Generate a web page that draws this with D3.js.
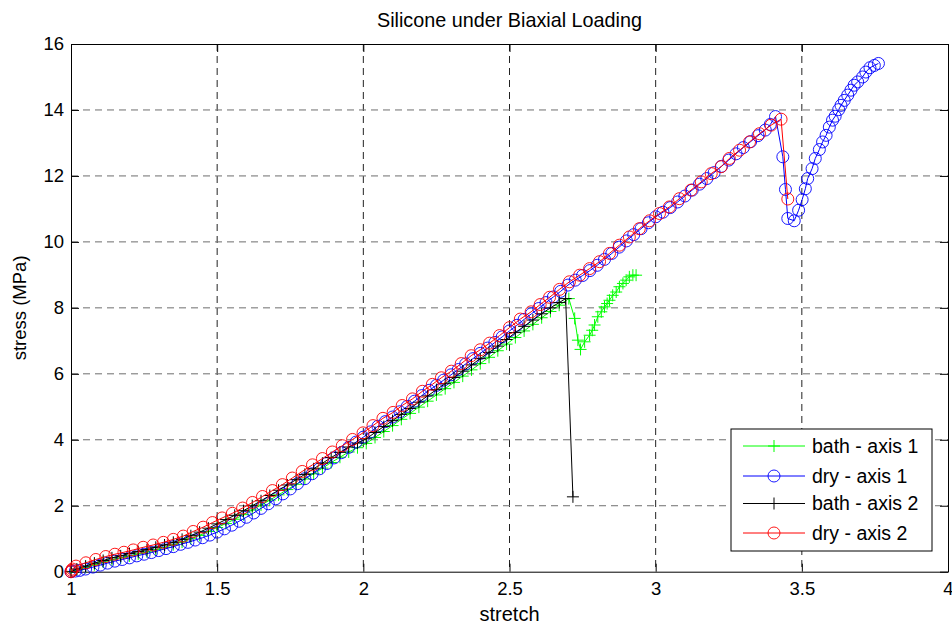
<!DOCTYPE html>
<html><head><meta charset="utf-8">
<script src="https://cdn.jsdelivr.net/npm/d3@7"></script>
<style>
html,body{margin:0;padding:0;background:#fff;}
svg{display:block;font-family:"Liberation Sans",Arial,Helvetica,sans-serif;}
</style></head>
<body>
<svg id="chart" width="952" height="624"></svg>
<script>
// ---------------- data (stretch, stress in MPa) ----------------
const bathAxis1 = [[1.000,0.00],[1.020,0.05],[1.050,0.13],[1.080,0.21],[1.110,0.29],[1.140,0.36],[1.170,0.42],[1.200,0.48],[1.230,0.54],[1.260,0.60],[1.290,0.67],[1.320,0.74],[1.350,0.82],[1.380,0.90],[1.410,1.00],[1.440,1.10],[1.470,1.22],[1.500,1.34],[1.530,1.46],[1.560,1.59],[1.590,1.73],[1.620,1.87],[1.650,2.02],[1.680,2.17],[1.710,2.33],[1.740,2.49],[1.770,2.65],[1.800,2.81],[1.830,2.97],[1.860,3.14],[1.890,3.31],[1.920,3.47],[1.950,3.63],[1.980,3.76],[2.010,3.89],[2.040,4.07],[2.070,4.25],[2.100,4.43],[2.130,4.62],[2.160,4.80],[2.190,4.99],[2.220,5.17],[2.250,5.36],[2.280,5.55],[2.310,5.74],[2.340,5.93],[2.370,6.12],[2.400,6.31],[2.430,6.50],[2.460,6.70],[2.490,6.90],[2.520,7.10],[2.550,7.30],[2.580,7.50],[2.610,7.70],[2.640,7.89],[2.670,8.08],[2.703,8.28],[2.723,7.68],[2.734,7.02],[2.743,6.74],[2.757,6.97],[2.774,7.17],[2.783,7.32],[2.791,7.48],[2.802,7.73],[2.814,7.88],[2.825,8.03],[2.834,8.13],[2.842,8.23],[2.853,8.38],[2.865,8.48],[2.876,8.64],[2.888,8.74],[2.899,8.84],[2.910,8.94],[2.922,8.99],[2.933,8.99]];

const dryAxis1 = [[1.000,0.00],[1.015,0.02],[1.030,0.04],[1.050,0.08],[1.075,0.14],[1.100,0.20],[1.125,0.26],[1.150,0.32],[1.175,0.37],[1.200,0.42],[1.225,0.48],[1.250,0.53],[1.275,0.58],[1.300,0.64],[1.325,0.70],[1.350,0.76],[1.375,0.83],[1.400,0.89],[1.425,0.96],[1.450,1.03],[1.475,1.11],[1.500,1.20],[1.525,1.30],[1.550,1.41],[1.575,1.53],[1.600,1.65],[1.625,1.78],[1.650,1.92],[1.675,2.06],[1.700,2.21],[1.725,2.36],[1.750,2.51],[1.775,2.67],[1.800,2.82],[1.825,2.97],[1.850,3.12],[1.875,3.28],[1.900,3.45],[1.925,3.61],[1.950,3.77],[1.975,3.93],[2.000,4.08],[2.025,4.24],[2.050,4.41],[2.075,4.55],[2.100,4.69],[2.125,4.85],[2.150,5.01],[2.175,5.17],[2.200,5.34],[2.225,5.50],[2.250,5.65],[2.275,5.81],[2.300,5.97],[2.325,6.13],[2.350,6.30],[2.375,6.46],[2.400,6.62],[2.425,6.78],[2.450,6.95],[2.475,7.12],[2.500,7.30],[2.525,7.47],[2.550,7.65],[2.575,7.82],[2.600,7.98],[2.625,8.16],[2.650,8.33],[2.675,8.50],[2.700,8.69],[2.725,8.84],[2.750,8.98],[2.775,9.13],[2.800,9.29],[2.825,9.47],[2.850,9.65],[2.875,9.84],[2.900,10.03],[2.925,10.22],[2.950,10.40],[2.975,10.58],[3.000,10.76],[3.025,10.90],[3.050,11.04],[3.075,11.21],[3.100,11.39],[3.125,11.57],[3.150,11.75],[3.175,11.92],[3.200,12.10],[3.225,12.29],[3.250,12.48],[3.275,12.67],[3.300,12.86],[3.325,13.04],[3.350,13.22],[3.375,13.39],[3.392,13.56],[3.410,13.80],[3.435,12.58],[3.444,11.59],[3.452,10.71],[3.474,10.64],[3.489,10.96],[3.501,11.28],[3.512,11.61],[3.520,11.92],[3.535,12.22],[3.546,12.53],[3.560,12.80],[3.571,13.03],[3.583,13.23],[3.594,13.48],[3.605,13.69],[3.614,13.81],[3.626,14.01],[3.634,14.14],[3.645,14.29],[3.657,14.45],[3.668,14.60],[3.679,14.75],[3.691,14.85],[3.708,15.00],[3.719,15.15],[3.733,15.28],[3.748,15.35],[3.762,15.41]];

const bathAxis2 = [[1.000,0.00],[1.020,0.08],[1.050,0.17],[1.080,0.26],[1.110,0.34],[1.140,0.42],[1.170,0.48],[1.200,0.55],[1.230,0.61],[1.260,0.67],[1.290,0.74],[1.320,0.81],[1.350,0.89],[1.380,0.98],[1.410,1.09],[1.440,1.20],[1.470,1.32],[1.500,1.45],[1.530,1.58],[1.560,1.71],[1.590,1.85],[1.620,2.00],[1.650,2.15],[1.680,2.31],[1.710,2.47],[1.740,2.63],[1.770,2.79],[1.800,2.95],[1.830,3.12],[1.860,3.29],[1.890,3.46],[1.920,3.62],[1.950,3.78],[1.980,3.90],[2.010,4.03],[2.040,4.22],[2.070,4.40],[2.100,4.58],[2.130,4.77],[2.160,4.95],[2.190,5.14],[2.220,5.33],[2.250,5.52],[2.280,5.70],[2.310,5.89],[2.340,6.08],[2.370,6.27],[2.400,6.46],[2.430,6.65],[2.460,6.84],[2.490,7.04],[2.520,7.25],[2.550,7.44],[2.580,7.63],[2.610,7.82],[2.640,8.00],[2.670,8.16],[2.692,8.28],[2.717,2.27]];

const dryAxis2 = [[1.000,0.00],[1.002,0.04],[1.005,0.08],[1.017,0.17],[1.051,0.27],[1.085,0.37],[1.119,0.46],[1.150,0.53],[1.181,0.59],[1.213,0.66],[1.247,0.74],[1.281,0.81],[1.316,0.89],[1.350,0.98],[1.384,1.08],[1.418,1.22],[1.452,1.35],[1.484,1.49],[1.517,1.63],[1.552,1.77],[1.587,1.93],[1.621,2.10],[1.655,2.28],[1.689,2.46],[1.723,2.64],[1.757,2.84],[1.791,3.04],[1.826,3.24],[1.860,3.43],[1.894,3.63],[1.928,3.82],[1.963,4.01],[1.999,4.21],[2.033,4.43],[2.067,4.65],[2.102,4.83],[2.133,5.04],[2.168,5.24],[2.202,5.47],[2.236,5.68],[2.267,5.88],[2.301,6.08],[2.335,6.31],[2.369,6.55],[2.400,6.73],[2.432,6.93],[2.466,7.16],[2.500,7.40],[2.537,7.66],[2.574,7.88],[2.605,8.10],[2.637,8.32],[2.671,8.56],[2.705,8.79],[2.740,8.99],[2.774,9.19],[2.808,9.40],[2.842,9.65],[2.876,9.90],[2.910,10.15],[2.944,10.40],[2.979,10.64],[3.013,10.86],[3.047,11.06],[3.081,11.31],[3.121,11.57],[3.156,11.82],[3.190,12.07],[3.224,12.28],[3.252,12.53],[3.287,12.78],[3.321,13.03],[3.355,13.28],[3.395,13.54],[3.429,13.72],[3.452,11.30]];

const seriesNames = ["bath - axis 1", "dry - axis 1", "bath - axis 2", "dry - axis 2"];
const xTicks = [1, 1.5, 2, 2.5, 3, 3.5, 4];
const yTicks = [0, 2, 4, 6, 8, 10, 12, 14, 16];
const titleText = "Silicone under Biaxial Loading";
const xLabel = "stretch";
const yLabel = "stress (MPa)";

// ---------------- styles ----------------
const seriesData = [bathAxis1, dryAxis1, bathAxis2, dryAxis2];
const seriesColor = ["#00ff00", "#0000ff", "#000000", "#ff0000"];
const seriesMarker = ["plus", "circle", "plus", "circle"];

const svg = d3.select("#chart");
const L = 71, R = 948, T = 44, B = 571.7;
const x = d3.scaleLinear().domain([1, 4]).range([L, R]);
const y = d3.scaleLinear().domain([0, 16]).range([B, T]);
const FS = 18.5;

// grid
const grid = svg.append("g");
grid.selectAll("line.gx").data(xTicks.slice(1, -1)).join("line")
  .attr("x1", d => x(d)).attr("x2", d => x(d)).attr("y1", T).attr("y2", B)
  .attr("stroke", "#222").attr("stroke-width", 1).attr("stroke-dasharray", "7,5");
grid.selectAll("line.gy").data(yTicks.slice(1, -1)).join("line")
  .attr("x1", L).attr("x2", R).attr("y1", d => y(d)).attr("y2", d => y(d))
  .attr("stroke", "#6e6e6e").attr("stroke-width", 1).attr("stroke-dasharray", "7,5");

// axes
const fmt = d => String(d);
const axB = svg.append("g").attr("transform", `translate(0,${B})`)
  .call(d3.axisBottom(x).tickValues(xTicks).tickFormat(fmt).tickSizeInner(-8).tickSizeOuter(0).tickPadding(10));
const axT = svg.append("g").attr("transform", `translate(0,${T})`)
  .call(d3.axisTop(x).tickValues(xTicks).tickFormat("").tickSizeInner(-8).tickSizeOuter(0));
const axL = svg.append("g").attr("transform", `translate(${L},0)`)
  .call(d3.axisLeft(y).tickValues(yTicks).tickFormat(fmt).tickSizeInner(-8).tickSizeOuter(0).tickPadding(7));
const axR = svg.append("g").attr("transform", `translate(${R},0)`)
  .call(d3.axisRight(y).tickValues(yTicks).tickFormat("").tickSizeInner(-8).tickSizeOuter(0));
[axB, axT, axL, axR].forEach(a => {
  a.selectAll("text").attr("font-size", FS).attr("fill", "#000").attr("font-family", "Liberation Sans, Arial, sans-serif");
  a.selectAll("line").attr("stroke", "#000");
  a.select(".domain").attr("stroke", "#000").attr("stroke-width", 1);
});

// series
const line = d3.line().x(d => x(d[0])).y(d => y(d[1]));
function drawMarker(g, type, color, px, py) {
  if (type === "circle") {
    g.append("circle").attr("cx", px).attr("cy", py).attr("r", 6)
      .attr("fill", "none").attr("stroke", color).attr("stroke-width", 0.9);
  } else {
    g.append("path").attr("d", `M${px-6},${py}H${px+6}M${px},${py-6}V${py+6}`)
      .attr("stroke", color).attr("stroke-width", 1).attr("fill", "none");
  }
}
const plot = svg.append("g");
seriesData.forEach((data, i) => {
  const g = plot.append("g");
  g.append("path").datum(data).attr("d", line)
    .attr("fill", "none").attr("stroke", seriesColor[i]).attr("stroke-width", 1);
  data.forEach(d => drawMarker(g, seriesMarker[i], seriesColor[i], x(d[0]), y(d[1])));
});

// title & labels
svg.append("text").attr("x", (L + R) / 2).attr("y", 27).attr("text-anchor", "middle")
  .attr("font-size", 19.8).text(titleText);
svg.append("text").attr("x", (L + R) / 2).attr("y", 621).attr("text-anchor", "middle")
  .attr("font-size", 20).text(xLabel);
svg.append("text").attr("transform", `translate(26,${(T + B) / 2}) rotate(-90)`).attr("text-anchor", "middle")
  .attr("font-size", FS).text(yLabel);

// legend
const lg = svg.append("g");
lg.append("rect").attr("x", 731).attr("y", 429).attr("width", 201).attr("height", 122)
  .attr("fill", "#fff").attr("stroke", "#000").attr("stroke-width", 1);
const legY = [446, 476, 503.5, 533];
seriesNames.forEach((name, i) => {
  const yy = legY[i];
  lg.append("line").attr("x1", 743).attr("x2", 805).attr("y1", yy).attr("y2", yy)
    .attr("stroke", seriesColor[i]).attr("stroke-width", 1);
  drawMarker(lg, seriesMarker[i], seriesColor[i], 774, yy);
  lg.append("text").attr("x", 812).attr("y", yy).attr("dy", "0.35em")
    .attr("font-size", 19.5).text(name);
});
</script>
</body></html>
